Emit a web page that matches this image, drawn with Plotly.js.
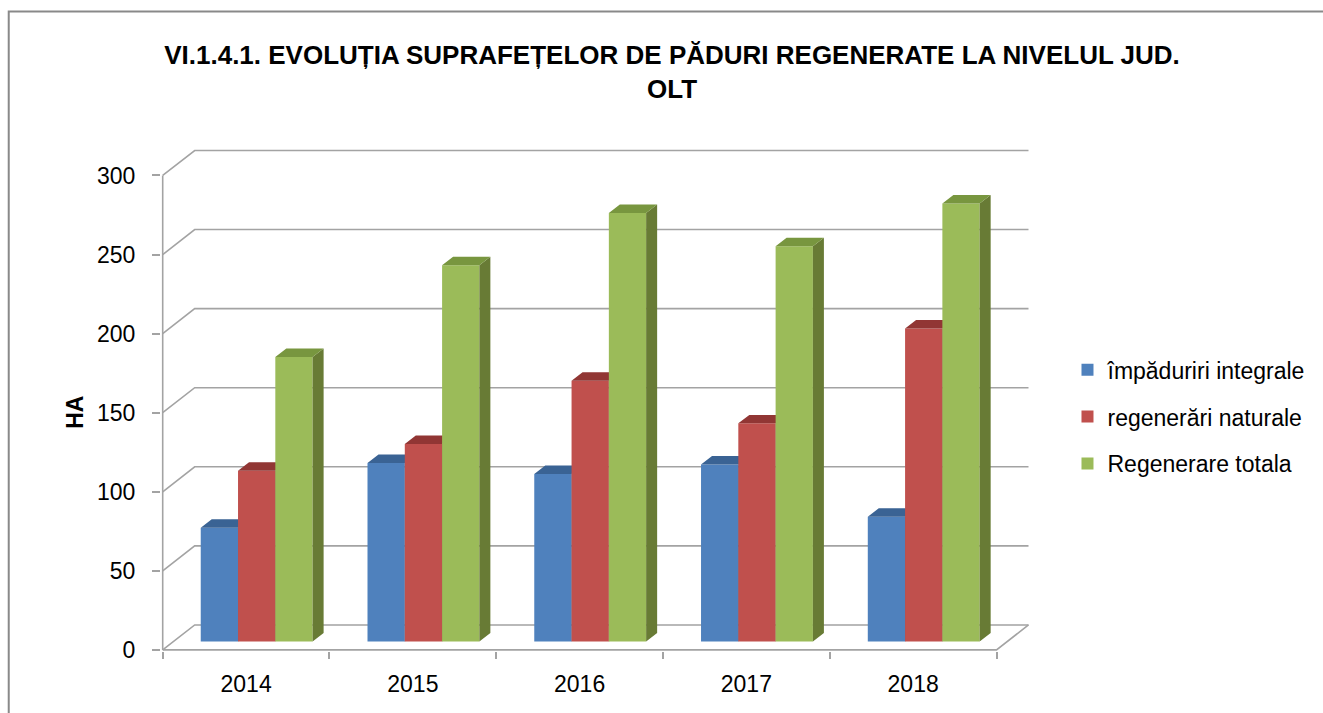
<!DOCTYPE html>
<html>
<head>
<meta charset="utf-8">
<script src="https://cdn.plot.ly/plotly-3.0.1.min.js"></script>
<style>html,body{margin:0;padding:0;background:#fff;}#chart{width:1323px;height:713px;}</style>
</head>
<body>
<div id="chart"></div>
<script>
// ---- data ----
const categories = ['2014', '2015', '2016', '2017', '2018'];
const impaduririIntegrale = [72, 113, 106, 112, 79];
const regenerariNaturale = [108, 125, 165, 138, 198];
const regenerareTotala = [180, 238, 271, 250, 277];
const yTickValues = [0, 50, 100, 150, 200, 250, 300];
const seriesNames = ['împăduriri integrale', 'regenerări naturale', 'Regenerare totala'];
const chartTitle = 'VI.1.4.1. EVOLUȚIA SUPRAFEȚELOR DE PĂDURI REGENERATE LA NIVELUL JUD.<br>OLT';
const yTitle = 'HA';

// ---- styling / geometry (pixels) ----
const W = 1323, H = 713;
const PX_X = 166.8, PX_Y = 1.583;
const AXIS_LEFT_PX = 163, AXIS_BOTTOM_PX = 650;
const WALL_DX_PX = 32, WALL_DY_PX = 25;
const BAR_FRONT_DX_PX = 10.6, BAR_FRONT_DY_PX = 8.3;
const BAR_DEPTH_DX_PX = 11, BAR_DEPTH_DY_PX = 8.5;
const BAR_W_PX = 37.3;
const colors = [
  {front: '#4F81BD', top: '#3A6394', side: '#385D8A'},
  {front: '#C0504D', top: '#913634', side: '#8C3735'},
  {front: '#9BBB59', top: '#78963F', side: '#687B35'}
];
const GRID_COLOR = '#a3a3a3';
const FONT = 'Liberation Sans, Arial, sans-serif';
const TITLE_FONT = 'Liberation Sans, Arial, sans-serif';

const n = categories.length;
const xi = categories.map((_, i) => i);
const wdx = WALL_DX_PX / PX_X, wdy = WALL_DY_PX / PX_Y;
const xLo = -0.5 - 1.7 / PX_X, xHi = n - 0.5 + wdx + 1.5 / PX_X;
const yTop = yTickValues[yTickValues.length - 1];
const yLo = -1.1 / PX_Y, yHi = yTop + wdy + 1.5 / PX_Y;
const plotW = (xHi - xLo) * PX_X, plotH = (yHi - yLo) * PX_Y;
const mL = AXIS_LEFT_PX - (-0.5 - xLo) * PX_X;
const mB = H - (AXIS_BOTTOM_PX + (0 - yLo) * PX_Y);
const mR = W - mL - plotW, mT = H - mB - plotH;
const pxX = px => (px - mL) / plotW;
const pxY = py => (H - mB - py) / plotH;

// grid / walls
const gx = [], gy = [];
yTickValues.forEach(t => {
  gx.push(-0.5, -0.5 + wdx, n - 0.5 + wdx, null);
  gy.push(t, t + wdy, t + wdy, null);
});
gx.push(-0.5, n - 0.5, n - 0.5 + wdx, null);
gy.push(0, 0, wdy, null);
gx.push(-0.5, -0.5, null);
gy.push(0, yTop, null);

const traces = [{
  type: 'scatter', mode: 'lines', x: gx, y: gy,
  line: {color: GRID_COLOR, width: 1.6}, hoverinfo: 'skip', showlegend: false, zorder: 0
}];

const fdx = BAR_FRONT_DX_PX / PX_X, fdy = BAR_FRONT_DY_PX / PX_Y;
const ddx = BAR_DEPTH_DX_PX / PX_X, ddy = BAR_DEPTH_DY_PX / PX_Y;
const bw = BAR_W_PX / PX_X;
const seriesValues = [impaduririIntegrale, regenerariNaturale, regenerareTotala];

seriesValues.forEach((vals, j) => {
  const centers = xi.map(i => i + fdx + (j - 1) * bw);
  traces.push({
    type: 'bar', name: seriesNames[j], x: centers, y: vals, base: fdy, width: bw,
    marker: {color: colors[j].front, line: {width: 0}},
    hovertemplate: '%{text}: %{y}<extra>' + seriesNames[j] + '</extra>',
    text: categories, textposition: 'none',
    legendgroup: 'g' + j,
    zorder: 1 + 2 * j
  });
  const tx = [], ty = [], sx = [], sy = [];
  centers.forEach((c, k) => {
    const L = c - bw / 2, R = c + bw / 2, top = fdy + vals[k];
    tx.push(L, L + ddx, R + ddx, R, L, null);
    ty.push(top, top + ddy, top + ddy, top, top, null);
    sx.push(R, R + ddx, R + ddx, R, R, null);
    sy.push(fdy, fdy + ddy, top + ddy, top, fdy, null);
  });
  traces.push({
    type: 'scatter', mode: 'lines', x: sx, y: sy, fill: 'toself',
    fillcolor: colors[j].side, line: {width: 0, color: colors[j].side},
    hoverinfo: 'skip', showlegend: false, zorder: 2 + 2 * j
  });
  traces.push({
    type: 'scatter', mode: 'lines', x: tx, y: ty, fill: 'toself',
    fillcolor: colors[j].top, line: {width: 0, color: colors[j].top},
    hoverinfo: 'skip', showlegend: false, zorder: 2 + 2 * j
  });
});

const boundaries = xi.map(i => i - 0.5).concat([n - 0.5]);

const layout = {
  width: W, height: H,
  margin: {l: mL, r: mR, t: mT, b: mB, pad: 0},
  paper_bgcolor: '#ffffff', plot_bgcolor: 'rgba(0,0,0,0)',
  barmode: 'overlay',
  font: {family: FONT, size: 23, color: '#000'},
  title: {
    text: chartTitle,
    font: {family: TITLE_FONT, size: 26, color: '#000', weight: 'bold'},
    xref: 'container', x: 672 / W, xanchor: 'center',
    yref: 'container', y: 1 - 64 / H, yanchor: 'top'
  },
  xaxis: {
    range: [xLo, xHi], tickmode: 'array', tickvals: xi, ticktext: categories,
    ticks: '', showgrid: false, zeroline: false, showline: false,
    tickfont: {family: FONT, size: 23, color: '#000'},
    ticklabelstandoff: 17,
    minor: {tickmode: 'array', tickvals: boundaries, ticks: 'outside', ticklen: 7,
            tickcolor: GRID_COLOR, tickwidth: 1.6, showgrid: false},
    fixedrange: true
  },
  yaxis: {
    range: [yLo, yHi], tickmode: 'array', tickvals: yTickValues,
    ticks: 'outside', ticklen: 8, tickcolor: GRID_COLOR, tickwidth: 1.6,
    showgrid: false, zeroline: false, showline: false,
    tickfont: {family: FONT, size: 23, color: '#000'},
    ticklabelstandoff: 12,
    fixedrange: true
  },
  legend: {
    x: pxX(1068), xanchor: 'left', y: pxY(348), yanchor: 'top',
    font: {family: FONT, size: 23, color: '#000'},
    bgcolor: 'rgba(0,0,0,0)', traceorder: 'grouped', tracegroupgap: 14,
    itemclick: false, itemdoubleclick: false
  },
  annotations: [{
    text: '<b>' + yTitle + '</b>', textangle: -90, showarrow: false,
    xref: 'paper', yref: 'paper', x: pxX(75), y: pxY(412),
    xanchor: 'center', yanchor: 'middle',
    font: {family: FONT, size: 23, color: '#000'}
  }],
  shapes: [{
    type: 'rect', xref: 'paper', yref: 'paper',
    x0: pxX(9), x1: pxX(W + 20), y0: pxY(11), y1: pxY(H + 20),
    line: {color: '#898989', width: 2}, fillcolor: 'rgba(0,0,0,0)', layer: 'below'
  }]
};

Plotly.newPlot('chart', traces, layout, {displayModeBar: false});
</script>
</body>
</html>
